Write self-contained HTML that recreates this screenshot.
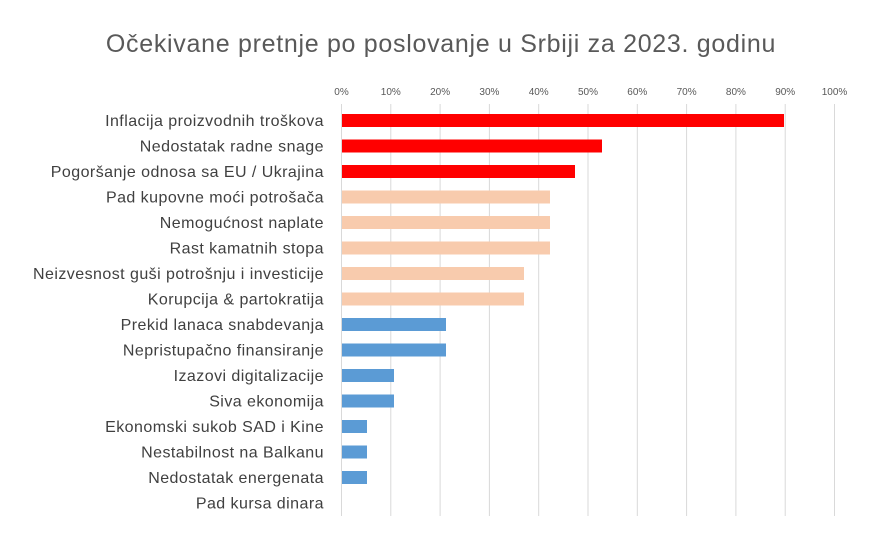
<!DOCTYPE html>
<html><head><style>
body{margin:0;background:#fff;}
svg{display:block;font-family:"Liberation Sans","DejaVu Sans",sans-serif;}
</style></head><body>
<svg width="882" height="546" viewBox="0 0 882 546">
<text x="441" y="52" text-anchor="middle" font-size="25" letter-spacing="0.7" fill="#595959">Očekivane pretnje po poslovanje u Srbiji za 2023. godinu</text>
<g stroke="#d9d9d9" stroke-width="1">
<line x1="341.5" y1="104" x2="341.5" y2="516"/><line x1="390.8" y1="104" x2="390.8" y2="516"/><line x1="440.1" y1="104" x2="440.1" y2="516"/><line x1="489.4" y1="104" x2="489.4" y2="516"/><line x1="538.7" y1="104" x2="538.7" y2="516"/><line x1="588" y1="104" x2="588" y2="516"/><line x1="637.3" y1="104" x2="637.3" y2="516"/><line x1="686.6" y1="104" x2="686.6" y2="516"/><line x1="735.9" y1="104" x2="735.9" y2="516"/><line x1="785.2" y1="104" x2="785.2" y2="516"/><line x1="834.5" y1="104" x2="834.5" y2="516"/>
</g>
<g font-size="10" fill="#595959" text-anchor="middle">
<text x="341.5" y="95">0%</text><text x="390.8" y="95">10%</text><text x="440.1" y="95">20%</text><text x="489.4" y="95">30%</text><text x="538.7" y="95">40%</text><text x="588" y="95">50%</text><text x="637.3" y="95">60%</text><text x="686.6" y="95">70%</text><text x="735.9" y="95">80%</text><text x="785.2" y="95">90%</text><text x="834.5" y="95">100%</text>
</g>
<g>
<rect x="342" y="114" width="442" height="13" fill="#ff0000"/>
<rect x="342" y="139.5" width="260" height="13" fill="#ff0000"/>
<rect x="342" y="165" width="233" height="13" fill="#ff0000"/>
<rect x="342" y="190.5" width="208" height="13" fill="#f8cbad"/>
<rect x="342" y="216" width="208" height="13" fill="#f8cbad"/>
<rect x="342" y="241.5" width="208" height="13" fill="#f8cbad"/>
<rect x="342" y="267" width="182" height="13" fill="#f8cbad"/>
<rect x="342" y="292.5" width="182" height="13" fill="#f8cbad"/>
<rect x="342" y="318" width="104" height="13" fill="#5b9bd5"/>
<rect x="342" y="343.5" width="104" height="13" fill="#5b9bd5"/>
<rect x="342" y="369" width="52" height="13" fill="#5b9bd5"/>
<rect x="342" y="394.5" width="52" height="13" fill="#5b9bd5"/>
<rect x="342" y="420" width="25" height="13" fill="#5b9bd5"/>
<rect x="342" y="445.5" width="25" height="13" fill="#5b9bd5"/>
<rect x="342" y="471" width="25" height="13" fill="#5b9bd5"/>
</g>
<g font-size="16" letter-spacing="0.45" fill="#404040" text-anchor="end">
<text x="324" y="126">Inflacija proizvodnih troškova</text>
<text x="324" y="151.5">Nedostatak radne snage</text>
<text x="324" y="177">Pogoršanje odnosa sa EU / Ukrajina</text>
<text x="324" y="202.5">Pad kupovne moći potrošača</text>
<text x="324" y="228">Nemogućnost naplate</text>
<text x="324" y="253.5">Rast kamatnih stopa</text>
<text x="324" y="279">Neizvesnost guši potrošnju i investicije</text>
<text x="324" y="304.5">Korupcija &amp; partokratija</text>
<text x="324" y="330">Prekid lanaca snabdevanja</text>
<text x="324" y="355.5">Nepristupačno finansiranje</text>
<text x="324" y="381">Izazovi digitalizacije</text>
<text x="324" y="406.5">Siva ekonomija</text>
<text x="324" y="432">Ekonomski sukob SAD i Kine</text>
<text x="324" y="457.5">Nestabilnost na Balkanu</text>
<text x="324" y="483">Nedostatak energenata</text>
<text x="324" y="508.5">Pad kursa dinara</text>
</g>
</svg>
</body></html>
